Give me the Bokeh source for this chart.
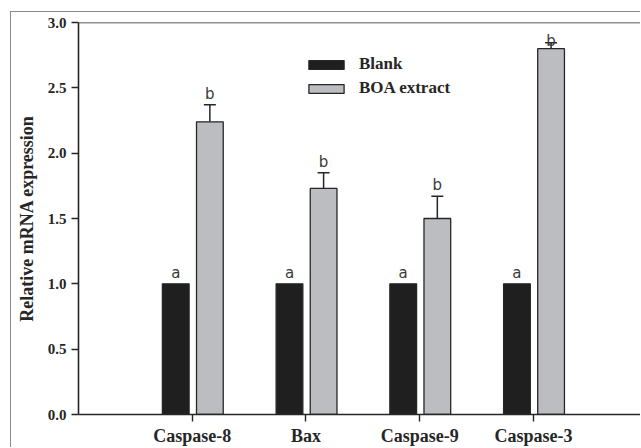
import numpy as np
from bokeh.plotting import figure
from bokeh.models import (Range1d, FixedTicker, NumeralTickFormatter, Span, Whisker,
                          TeeHead, ColumnDataSource, Legend, LegendItem, InlineStyleSheet)
from bokeh.core.properties import value
from bokeh.embed import file_html
from bokeh.resources import INLINE

categories = ["Caspase-8", "Bax", "Caspase-9", "Caspase-3"]
blank_values = [1.0, 1.0, 1.0, 1.0]
blank_errors = [0.0, 0.0, 0.0, 0.0]
boa_values = [2.24, 1.73, 1.50, 2.80]
boa_errors = [0.13, 0.12, 0.17, 0.045]
blank_letters = ["a", "a", "a", "a"]
boa_letters = ["b", "b", "b", "b"]
y_ticks = [0.0, 0.5, 1.0, 1.5, 2.0, 2.5, 3.0]

SERIF = "Liberation Serif"
DARK = "#262626"
BLANK_FILL = "#1f1f1f"
BOA_FILL = "#bcbdc0"

pos = np.arange(1, len(categories) + 1)
off_blank, off_boa, bw = -0.145, 0.155, 0.235

blank_top = np.array(blank_values) + np.array(blank_errors)
boa_top = np.array(boa_values) + np.array(boa_errors)

src_blank = ColumnDataSource(dict(x=pos + off_blank, top=blank_values, up=blank_top,
                                  ly=np.minimum(blank_top + 0.085, 2.86), lab=blank_letters))
src_boa = ColumnDataSource(dict(x=pos + off_boa, top=boa_values, up=boa_top,
                                ly=np.minimum(boa_top + 0.085, 2.86), lab=boa_letters))

frame_css = InlineStyleSheet(css=":host { border-left: 1px solid #8a8a8a !important; "
                                 "border-top: 1px solid #8a8a8a !important; }")

p = figure(width=630, height=436, output_backend="svg", toolbar_location=None,
           x_range=Range1d(0, 4.95), y_range=Range1d(0, 3.0),
           min_border_left=67, min_border_right=0, min_border_top=10, min_border_bottom=32,
           stylesheets=[frame_css])
p.margin = (11, 0, 0, 10)
p.outline_line_color = None
p.xgrid.visible = False
p.ygrid.visible = False
p.background_fill_color = "white"
p.border_fill_color = "white"

r_blank = p.vbar(x="x", top="top", bottom=0, width=bw, source=src_blank,
                 fill_color=BLANK_FILL, line_color=DARK, line_width=1.3)
r_boa = p.vbar(x="x", top="top", bottom=0, width=bw, source=src_boa,
               fill_color=BOA_FILL, line_color=DARK, line_width=1.3)

w = Whisker(base="x", lower="top", upper="up", source=src_boa, dimension="height",
            line_color=DARK, line_width=1.5,
            upper_head=TeeHead(size=12, line_color=DARK, line_width=1.5),
            lower_head=None)
p.add_layout(w)

for src in (src_blank, src_boa):
    p.text(x="x", y="ly", text="lab", source=src, text_align="center",
           text_baseline="alphabetic", text_font=value("DejaVu Sans"),
           text_font_size="15px", text_color="#3a3a3a")

p.add_layout(Span(location=3.0, dimension="width", line_color=DARK, line_width=1.6))

# axes
p.yaxis.ticker = FixedTicker(ticks=y_ticks)
p.yaxis.formatter = NumeralTickFormatter(format="0.0")
p.yaxis.axis_label = "Relative mRNA expression"
p.xaxis.ticker = FixedTicker(ticks=list(pos))
p.xaxis.major_label_overrides = {int(i): c for i, c in zip(pos, categories)}
for ax in (p.xaxis, p.yaxis):
    ax.axis_line_color = DARK
    ax.axis_line_width = 1.6
    ax.major_tick_line_color = DARK
    ax.major_tick_line_width = 1.4
    ax.major_tick_in = 0
    ax.major_tick_out = 7
    ax.minor_tick_line_color = None
    ax.major_label_text_font = SERIF
    ax.major_label_text_font_style = "bold"
    ax.major_label_text_color = DARK
    ax.axis_label_text_font = SERIF
    ax.axis_label_text_font_style = "bold"
    ax.axis_label_text_color = DARK
p.yaxis.major_label_text_font_size = "15px"
p.yaxis.major_label_standoff = 5
p.yaxis.axis_label_text_font_size = "18px"
p.yaxis.axis_label_standoff = 8
p.xaxis.major_label_text_font_size = "18px"
p.xaxis.major_label_standoff = 4

legend = Legend(items=[LegendItem(label="Blank", renderers=[r_blank]),
                       LegendItem(label="BOA extract", renderers=[r_boa])],
                location=(226, 316), orientation="vertical",
                glyph_width=44, glyph_height=11, label_standoff=11, spacing=4,
                label_height=20, padding=0, margin=0,
                border_line_color=None, background_fill_alpha=0,
                label_text_font=SERIF, label_text_font_style="bold",
                label_text_font_size="17px", label_text_color=DARK)
p.add_layout(legend)

open("out.html", "w").write(file_html(p, INLINE))
